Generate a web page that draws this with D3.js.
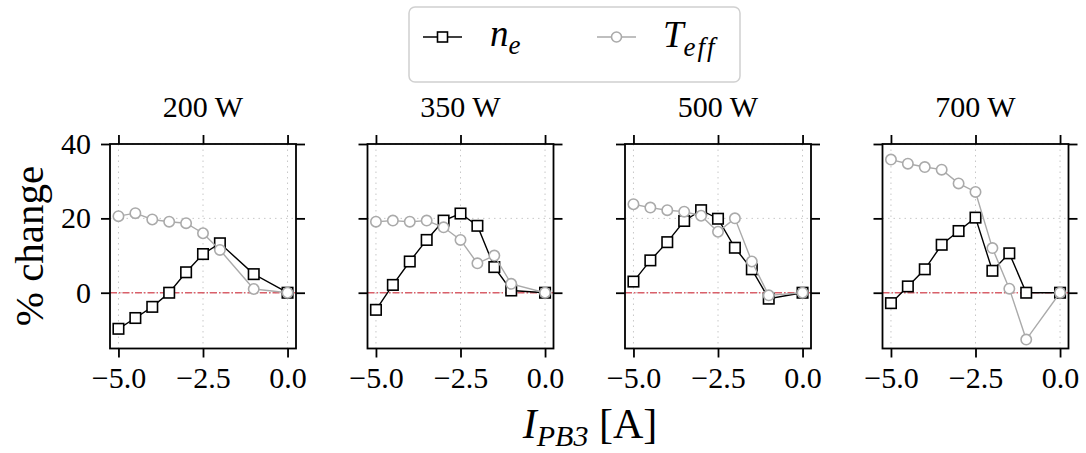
<!DOCTYPE html>
<html><head><meta charset="utf-8">
<script src="https://cdn.jsdelivr.net/npm/d3@7"></script>
<style>
html,body{margin:0;padding:0;background:#fff;}
svg{display:block;}
text{font-family:"Liberation Serif","DejaVu Serif",serif;fill:#000;}
</style></head>
<body><svg id="chart" width="1086" height="453"></svg>
<script>
const panelTitles = ["200 W", "350 W", "500 W", "700 W"];
const xTicks = [-5, -2.5, 0];
const yTicks = [0, 20, 40];
const xDomain = [-5.25, 0.25];
const yDomain = [-15, 40];

// x positions (current, A) for each power level
const x200 = [-5, -4.5, -4, -3.5, -3, -2.5, -2, -1, 0];
const x350 = [-5, -4.5, -4, -3.5, -3, -2.5, -2, -1.5, -1, 0];
const x500 = [-5, -4.5, -4, -3.5, -3, -2.5, -2, -1.5, -1, 0];
const x700 = [-5, -4.5, -4, -3.5, -3, -2.5, -2, -1.5, -1, 0];

// % change of n_e
const ne200 = [-9.7, -6.8, -3.8, 0.0, 5.5, 10.4, 13.3, 5.0, 0];
const ne350 = [-4.6, 2.1, 8.4, 14.2, 19.4, 21.3, 18.0, 6.9, 0.6, 0];
const ne500 = [3.0, 8.7, 13.6, 19.3, 22.2, 19.9, 12.1, 6.3, -1.6, 0];
const ne700 = [-2.8, 1.7, 6.3, 12.9, 16.6, 20.2, 5.9, 10.6, 0.0, 0];

// % change of T_eff
const te200 = [20.6, 21.4, 19.7, 19.1, 18.7, 16.0, 11.5, 1.0, 0];
const te350 = [19.1, 19.4, 19.1, 19.4, 17.6, 14.2, 7.9, 10.0, 2.4, 0];
const te500 = [23.8, 22.9, 22.2, 21.8, 20.7, 16.4, 20.0, 8.4, -0.7, 0];
const te700 = [35.8, 34.7, 33.8, 33.1, 29.4, 27.1, 12.0, 1.1, -12.6, 0];

const xs = [x200, x350, x500, x700];
const nes = [ne200, ne350, ne500, ne700];
const tes = [te200, te350, te500, te700];

const svg = d3.select("#chart");
const panelLeft = [110, 367.5, 625, 882.5];
const panelW = 186;
const plotTop = 144, plotBottom = 348.5;
const fmt = d3.format(".1f");
const gray = "#aaaaaa";
const sq = 10.5;

panelTitles.forEach((title, i) => {
  const g = svg.append("g").attr("transform", `translate(${panelLeft[i]},0)`);
  const x = d3.scaleLinear().domain(xDomain).range([0, panelW]);
  const y = d3.scaleLinear().domain(yDomain).range([plotBottom, plotTop]);

  // grid
  g.append("g").selectAll("line").data(xTicks).join("line")
    .attr("x1", d => x(d)).attr("x2", d => x(d)).attr("y1", plotTop).attr("y2", plotBottom)
    .attr("stroke", "#c8c8c8").attr("stroke-width", 1).attr("stroke-dasharray", "1.5,4");
  g.append("g").selectAll("line").data(yTicks).join("line")
    .attr("x1", 0).attr("x2", panelW).attr("y1", d => y(d)).attr("y2", d => y(d))
    .attr("stroke", "#c8c8c8").attr("stroke-width", 1).attr("stroke-dasharray", "1.5,4");

  // zero reference line
  g.append("line").attr("x1", 0).attr("x2", panelW).attr("y1", y(0)).attr("y2", y(0))
    .attr("stroke", "#d9606a").attr("stroke-width", 1.5).attr("stroke-dasharray", "7,2,1.5,2");

  const line = d3.line().x(d => x(d[0])).y(d => y(d[1]));
  const neData = xs[i].map((v, k) => [v, nes[i][k]]);
  const teData = xs[i].map((v, k) => [v, tes[i][k]]);

  // n_e
  g.append("path").datum(neData).attr("d", line).attr("fill", "none")
    .attr("stroke", "#000").attr("stroke-width", 1.4);
  g.append("g").selectAll("rect").data(neData).join("rect")
    .attr("x", d => x(d[0]) - sq / 2).attr("y", d => y(d[1]) - sq / 2)
    .attr("width", sq).attr("height", sq)
    .attr("fill", "#fff").attr("stroke", "#000").attr("stroke-width", 1.6);

  // T_eff
  g.append("path").datum(teData).attr("d", line).attr("fill", "none")
    .attr("stroke", gray).attr("stroke-width", 1.4);
  g.append("g").selectAll("circle").data(teData).join("circle")
    .attr("cx", d => x(d[0])).attr("cy", d => y(d[1])).attr("r", 5.2)
    .attr("fill", "#fff").attr("stroke", gray).attr("stroke-width", 1.6);

  // axes
  const axB = g.append("g").attr("transform", `translate(0,${plotBottom})`)
    .call(d3.axisBottom(x).tickValues(xTicks).tickFormat(fmt).tickSize(9).tickPadding(9));
  const axT = g.append("g").attr("transform", `translate(0,${plotTop})`)
    .call(d3.axisTop(x).tickValues(xTicks).tickFormat("").tickSize(9));
  const axL = g.append("g")
    .call(d3.axisLeft(y).tickValues(yTicks).tickFormat(i === 0 ? d3.format("d") : "").tickSize(9).tickPadding(10));
  const axR = g.append("g").attr("transform", `translate(${panelW},0)`)
    .call(d3.axisRight(y).tickValues(yTicks).tickFormat("").tickSize(9));
  [axB, axT, axL, axR].forEach(a => {
    a.select(".domain").remove();
    a.selectAll(".tick line").attr("stroke", "#000").attr("stroke-width", 1.8);
    a.selectAll(".tick text").attr("font-size", 30)
      .attr("font-family", '"Liberation Serif","DejaVu Serif",serif').attr("fill", "#000");
  });

  // frame
  g.append("rect").attr("x", 0).attr("y", plotTop).attr("width", panelW).attr("height", plotBottom - plotTop)
    .attr("fill", "none").attr("stroke", "#000").attr("stroke-width", 1.8);

  // title
  g.append("text").attr("x", panelW / 2).attr("y", 117).attr("text-anchor", "middle")
    .attr("font-size", 30).text(title);
});

// y label
svg.append("text").attr("transform", "translate(43,246) rotate(-90)")
  .attr("text-anchor", "middle").attr("font-size", 41).text("% change");

// x label
const xl = svg.append("text").attr("x", 590).attr("y", 438).attr("text-anchor", "middle").attr("font-size", 42);
xl.append("tspan").attr("font-style", "italic").text("I");
xl.append("tspan").attr("font-style", "italic").attr("font-size", 30).attr("dy", 8).text("PB3");
xl.append("tspan").attr("dy", -8).text(" [A]");

// legend
const lg = svg.append("g");
lg.append("rect").attr("x", 409).attr("y", 7).attr("width", 331).attr("height", 75).attr("rx", 6)
  .attr("fill", "#fff").attr("stroke", "#d0d0d0").attr("stroke-width", 1.5);
lg.append("line").attr("x1", 423).attr("x2", 462).attr("y1", 37).attr("y2", 37).attr("stroke", "#000").attr("stroke-width", 1.4);
lg.append("rect").attr("x", 437.5).attr("y", 32).attr("width", 10).attr("height", 10)
  .attr("fill", "#fff").attr("stroke", "#000").attr("stroke-width", 1.6);
const t1 = lg.append("text").attr("x", 490).attr("y", 46).attr("font-size", 37);
t1.append("tspan").attr("font-style", "italic").text("n");
t1.append("tspan").attr("font-style", "italic").attr("font-size", 27).attr("dy", 8).text("e");
lg.append("line").attr("x1", 597).attr("x2", 636).attr("y1", 37).attr("y2", 37).attr("stroke", gray).attr("stroke-width", 1.4);
lg.append("circle").attr("cx", 616.5).attr("cy", 37).attr("r", 5)
  .attr("fill", "#fff").attr("stroke", gray).attr("stroke-width", 1.6);
const t2 = lg.append("text").attr("x", 663).attr("y", 47).attr("font-size", 37);
t2.append("tspan").attr("font-style", "italic").text("T");
t2.append("tspan").attr("font-style", "italic").attr("font-size", 27).attr("dy", 9)
  .attr("letter-spacing", 2).text("eff");
</script></body></html>
